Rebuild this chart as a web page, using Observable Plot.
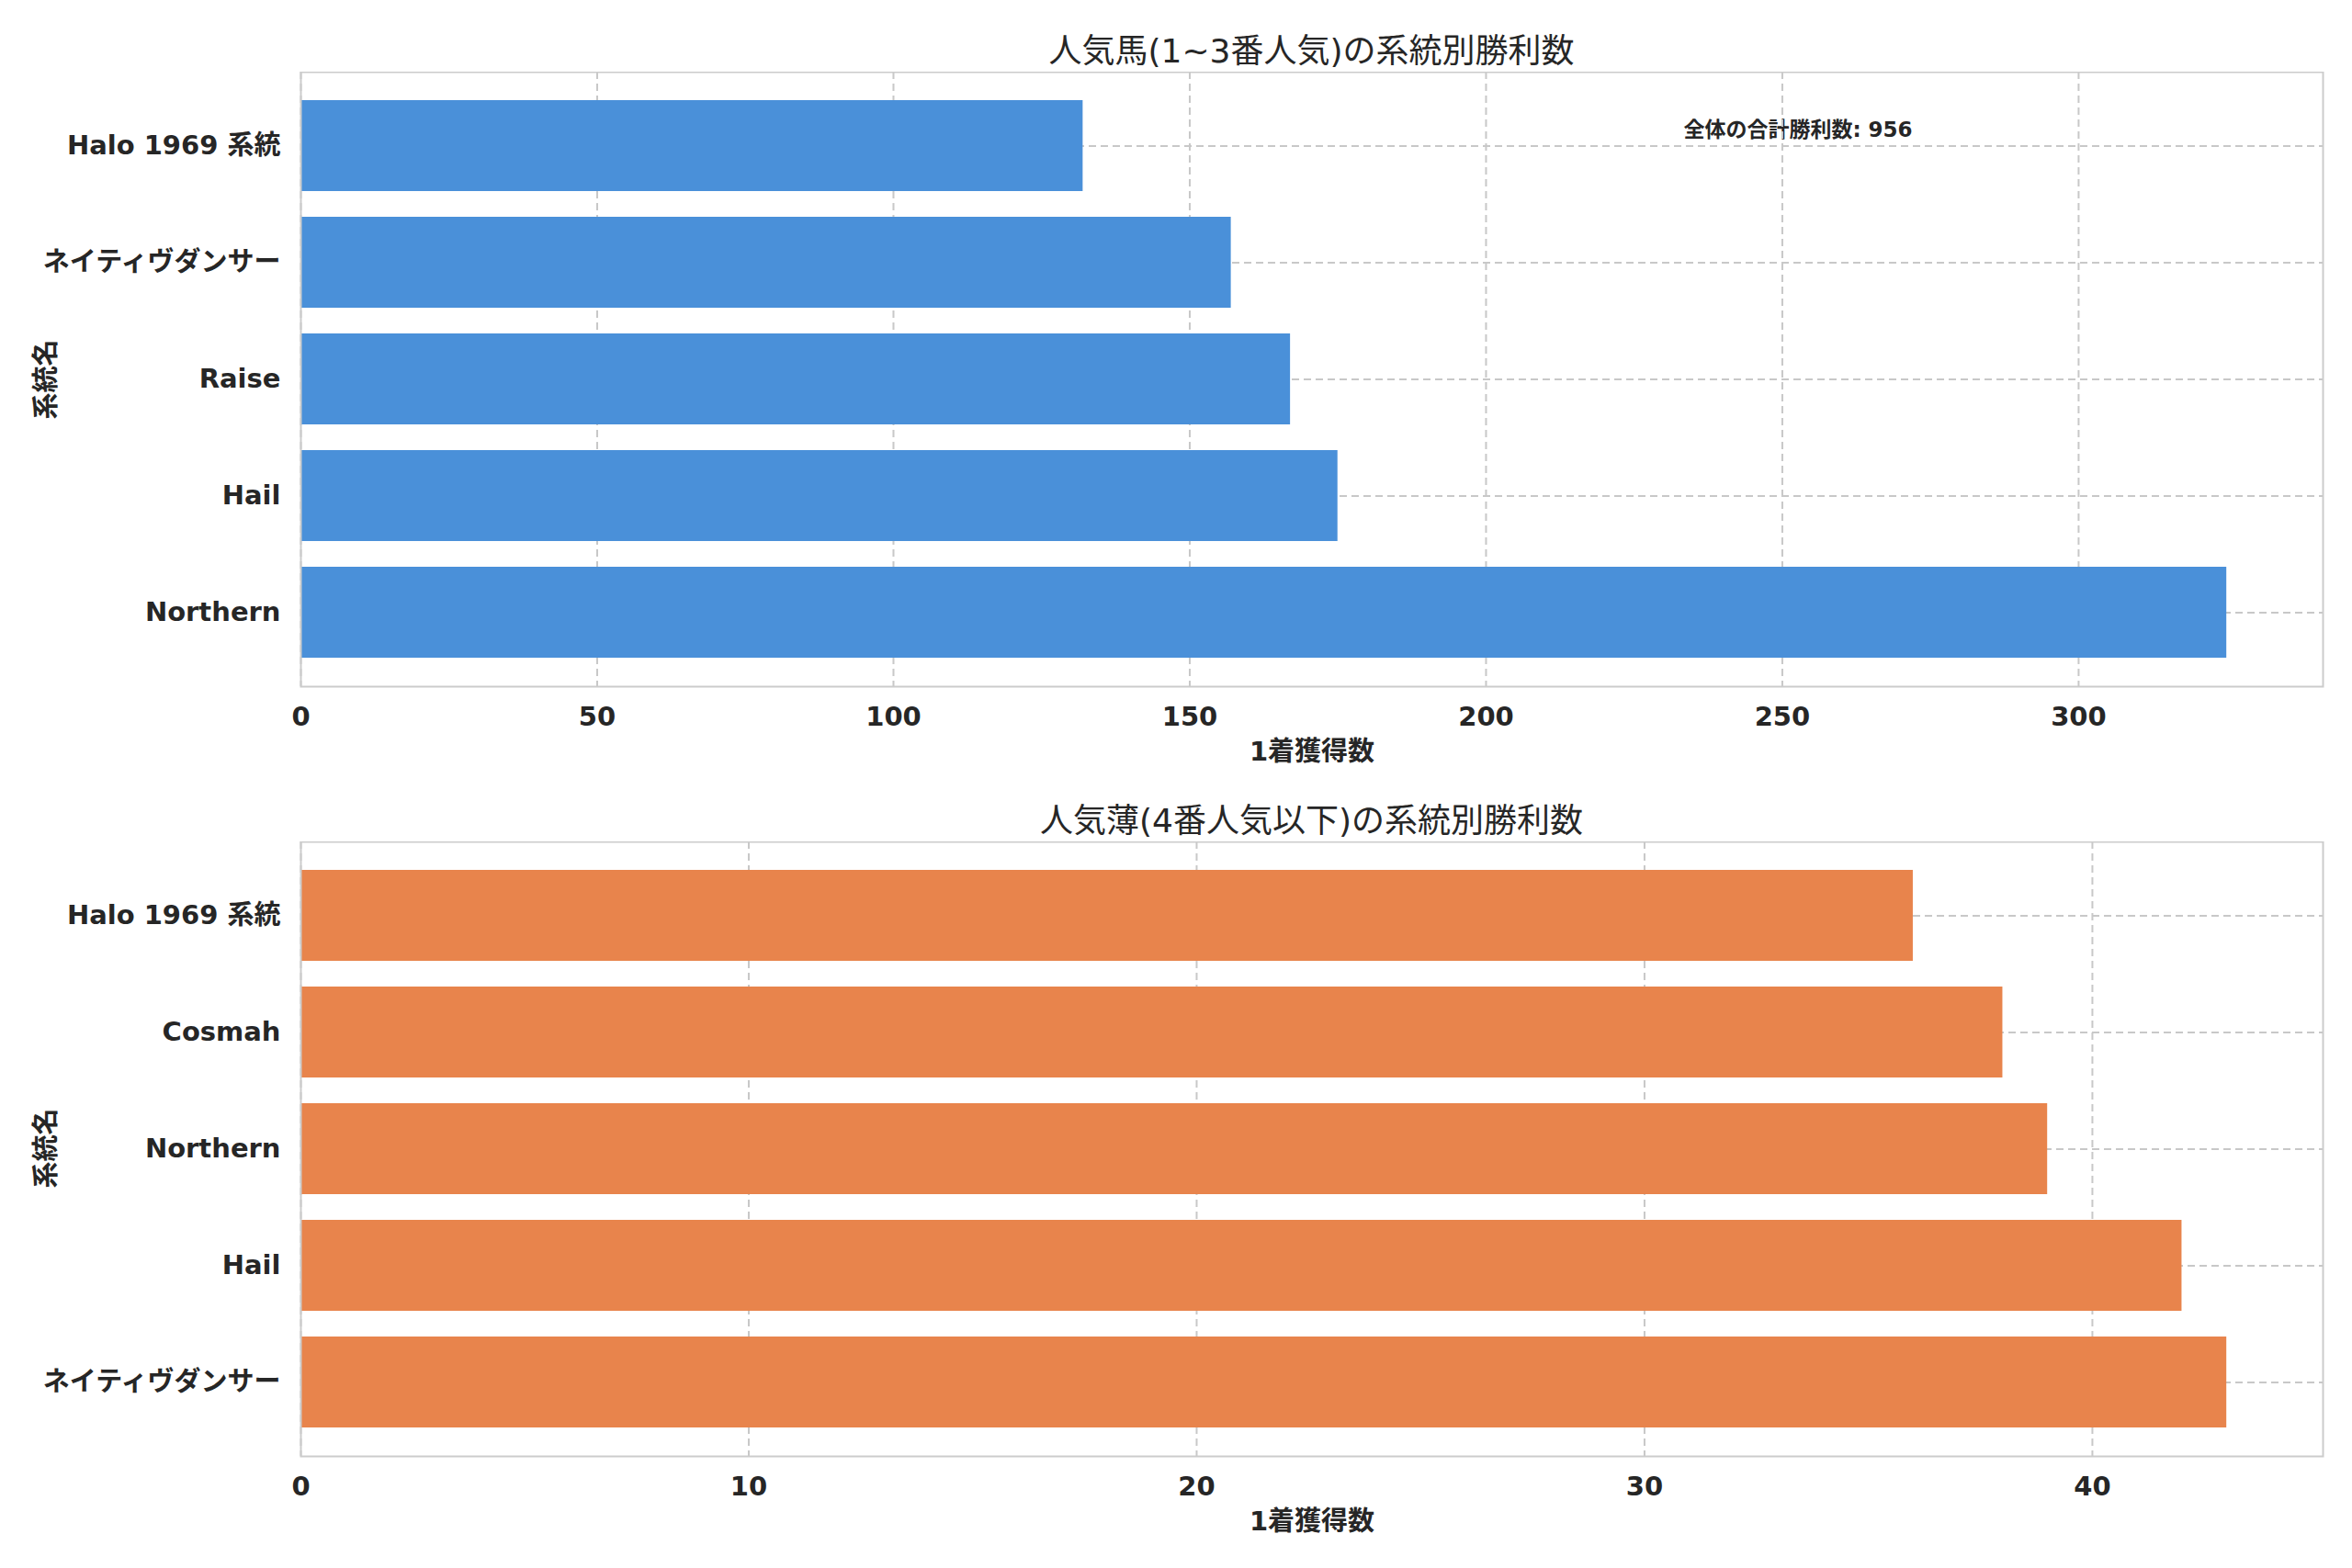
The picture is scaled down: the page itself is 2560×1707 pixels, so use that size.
<!DOCTYPE html>
<html><head><meta charset="utf-8">
<script src="https://cdn.jsdelivr.net/npm/d3@7"></script>
<script src="https://cdn.jsdelivr.net/npm/@observablehq/plot@0.6"></script>
<style>
body{margin:0;background:#fff;font-family:"DejaVu Sans","Noto Sans CJK JP",sans-serif;color:#262626}
#wrap{position:relative;width:2560px;height:1707px}
.t{position:absolute;left:327px;width:2201px;text-align:center;font-size:36px}
.yl{position:absolute;left:47px;font-size:29px;font-weight:bold;transform:translate(-50%,-50%) rotate(-90deg);white-space:nowrap}
.ann{position:absolute;font-size:23px;font-weight:bold;transform:translateX(-50%)}
.p{position:absolute;left:0}
</style></head><body><div id="wrap">
<div class="t" style="top:26px">人気馬(1~3番人気)の系統別勝利数</div>
<div class="t" style="top:864px">人気薄(4番人気以下)の系統別勝利数</div>
<div class="yl" style="top:413px">系統名</div>
<div class="yl" style="top:1250px">系統名</div>
<div class="ann" style="left:1957px;top:122px">全体の合計勝利数: 956</div>
<div class="ann" style="left:1957px;top:960px">全体の合計勝利数: 198</div>
<div class="p" id="p1" style="top:78px"></div>
<div class="p" id="p2" style="top:916px"></div>
</div>
<script>
const topNames = ["Halo 1969 系統","ネイティヴダンサー","Raise","Hail","Northern"];
const topWins = [132,157,167,175,325];
const botNames = ["Halo 1969 系統","Cosmah","Northern","Hail","ネイティヴダンサー"];
const botWins = [36,38,39,42,43];
const xLabel = "1着獲得数";

function panel(names, wins, xmax, ticks, color){
  const data = names.map((n,i)=>({n, v:wins[i]}));
  return Plot.plot({
    width:2560, height:669+120,
    marginTop:0, marginBottom:120, marginLeft:327, marginRight:32,
    style:{fontFamily:'"DejaVu Sans","Noto Sans CJK JP",sans-serif', fontSize:"29px", fontWeight:"bold", color:"#262626"},
    x:{domain:[0,xmax], ticks, label:null},
    y:{domain:names, padding:0.22, paddingOuter:0.24, label:null},
    marks:[
      Plot.gridX(ticks,{stroke:"#c8c8c8", strokeOpacity:1, strokeWidth:2, strokeDasharray:"8,5"}),
      Plot.gridY({stroke:"#c8c8c8", strokeOpacity:1, strokeWidth:2, strokeDasharray:"8,5"}),
      Plot.barX(data,{x:"v", y:"n", fill:color}),
      Plot.frame({stroke:"#cccccc", strokeWidth:2}),
      Plot.axisX(ticks,{tickSize:0, tickPadding:22, label:null, fontSize:29}),
      Plot.axisY({tickSize:0, tickPadding:22, label:null, fontSize:29}),
      Plot.text([xLabel],{frameAnchor:"bottom", dy:80, text:d=>d, fontSize:29, fontWeight:"bold"})
    ]
  });
}
document.getElementById("p1").append(panel(topNames, topWins, 341.25, [0,50,100,150,200,250,300], "#4a90d9"));
document.getElementById("p2").append(panel(botNames, botWins, 45.15, [0,10,20,30,40], "#e8844c"));
</script></body></html>
